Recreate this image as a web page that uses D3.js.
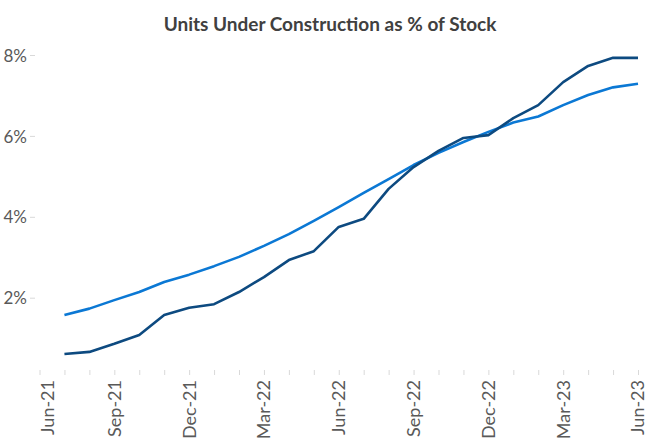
<!DOCTYPE html>
<html>
<head>
<meta charset="utf-8">
<script src="https://cdn.jsdelivr.net/npm/d3@7"></script>
<style>
  body { margin: 0; background: #fff; }
  svg { display: block; font-family: Lato, "Open Sans", sans-serif; }
</style>
</head>
<body>
<svg id="chart" width="647" height="441"></svg>
<script>
"use strict";

// axis categories (every month shown as a minor tick)
let axisMonths = [
  "Jun-21", "Jul-21", "Aug-21", "Sep-21", "Oct-21", "Nov-21", "Dec-21",
  "Jan-22", "Feb-22", "Mar-22", "Apr-22", "May-22", "Jun-22", "Jul-22",
  "Aug-22", "Sep-22", "Oct-22", "Nov-22", "Dec-22", "Jan-23", "Feb-23",
  "Mar-23", "Apr-23", "May-23", "Jun-23",
];
let tickLabels = ["Jun-21", "Sep-21", "Dec-21", "Mar-22", "Jun-22", "Sep-22", "Dec-22", "Mar-23", "Jun-23"];

// series start in Jul-21
let months = axisMonths.slice(1);
let darkSeries = [
  0.61, 0.66, 0.86, 1.08, 1.57, 1.75, 1.84, 2.14, 2.51, 2.93, 3.15, 3.75,
  3.95, 4.69, 5.23, 5.63, 5.95, 6.02, 6.44, 6.76, 7.33, 7.73, 7.93, 7.93,
];
let lightSeries = [
  1.57, 1.73, 1.94, 2.14, 2.39, 2.57, 2.78, 3.01, 3.28, 3.57, 3.90, 4.24,
  4.59, 4.93, 5.28, 5.58, 5.85, 6.10, 6.33, 6.48, 6.76, 7.01, 7.20, 7.29,
];
let yTicks = [2, 4, 6, 8];

let svg = d3.select("#chart");

function translate(x, y) {
  return "translate(" + x + "," + y + ")";
}

let x = d3.scalePoint().domain(axisMonths).range([39.5, 638]);
let y = d3.scaleLinear().domain([0, 8]).range([378.6, 55]);

svg
  .append("text")
  .attr("x", 330)
  .attr("y", 31)
  .attr("text-anchor", "middle")
  .style("font-weight", "bold")
  .style("font-size", "19px")
  .style("fill", "#404040")
  .text("Units Under Construction as % of Stock");

// y axis: labels + short ticks, no domain line
let yAxis = svg
  .append("g")
  .attr("transform", translate(35, 0))
  .call(d3.axisLeft(y).tickValues(yTicks).tickSize(5).tickPadding(3).tickFormat((d) => d + "%"));
yAxis.select(".domain").remove();
yAxis.selectAll(".tick line").attr("stroke", "#d9d9d9");
yAxis
  .selectAll(".tick text")
  .attr("dy", "0.36em")
  .style("font-family", "Lato, 'Open Sans', sans-serif")
  .style("font-size", "17px")
  .style("fill", "#595959");

// x axis: monthly minor ticks, quarterly rotated labels
let xAxis = svg
  .append("g")
  .attr("transform", translate(0, 370))
  .call(d3.axisBottom(x).tickSize(5).tickFormat(() => ""));
xAxis.select(".domain").remove();
xAxis.selectAll(".tick line").attr("stroke", "#d9d9d9");

svg
  .append("g")
  .selectAll("text")
  .data(tickLabels)
  .enter()
  .append("text")
  .attr("transform", (d, i) => translate(x(d) + (i === 0 ? 8 : 0), 380) + " rotate(-90)")
  .attr("text-anchor", "end")
  .attr("dy", "0.36em")
  .style("font-size", "18px")
  .style("fill", "#595959")
  .text((d) => d);

let line = d3
  .line()
  .x((d) => x(d[0]))
  .y((d) => y(d[1]));

let series = [
  { values: lightSeries, color: "#0b78d4" },
  { values: darkSeries, color: "#0d4a80" },
];

svg
  .append("g")
  .selectAll("path")
  .data(series)
  .enter()
  .append("path")
  .attr("d", (s) => line(months.map((m, i) => [m, s.values[i]])))
  .attr("fill", "none")
  .attr("stroke", (s) => s.color)
  .attr("stroke-width", 2.6)
  .attr("stroke-linejoin", "round");
</script>
</body>
</html>
